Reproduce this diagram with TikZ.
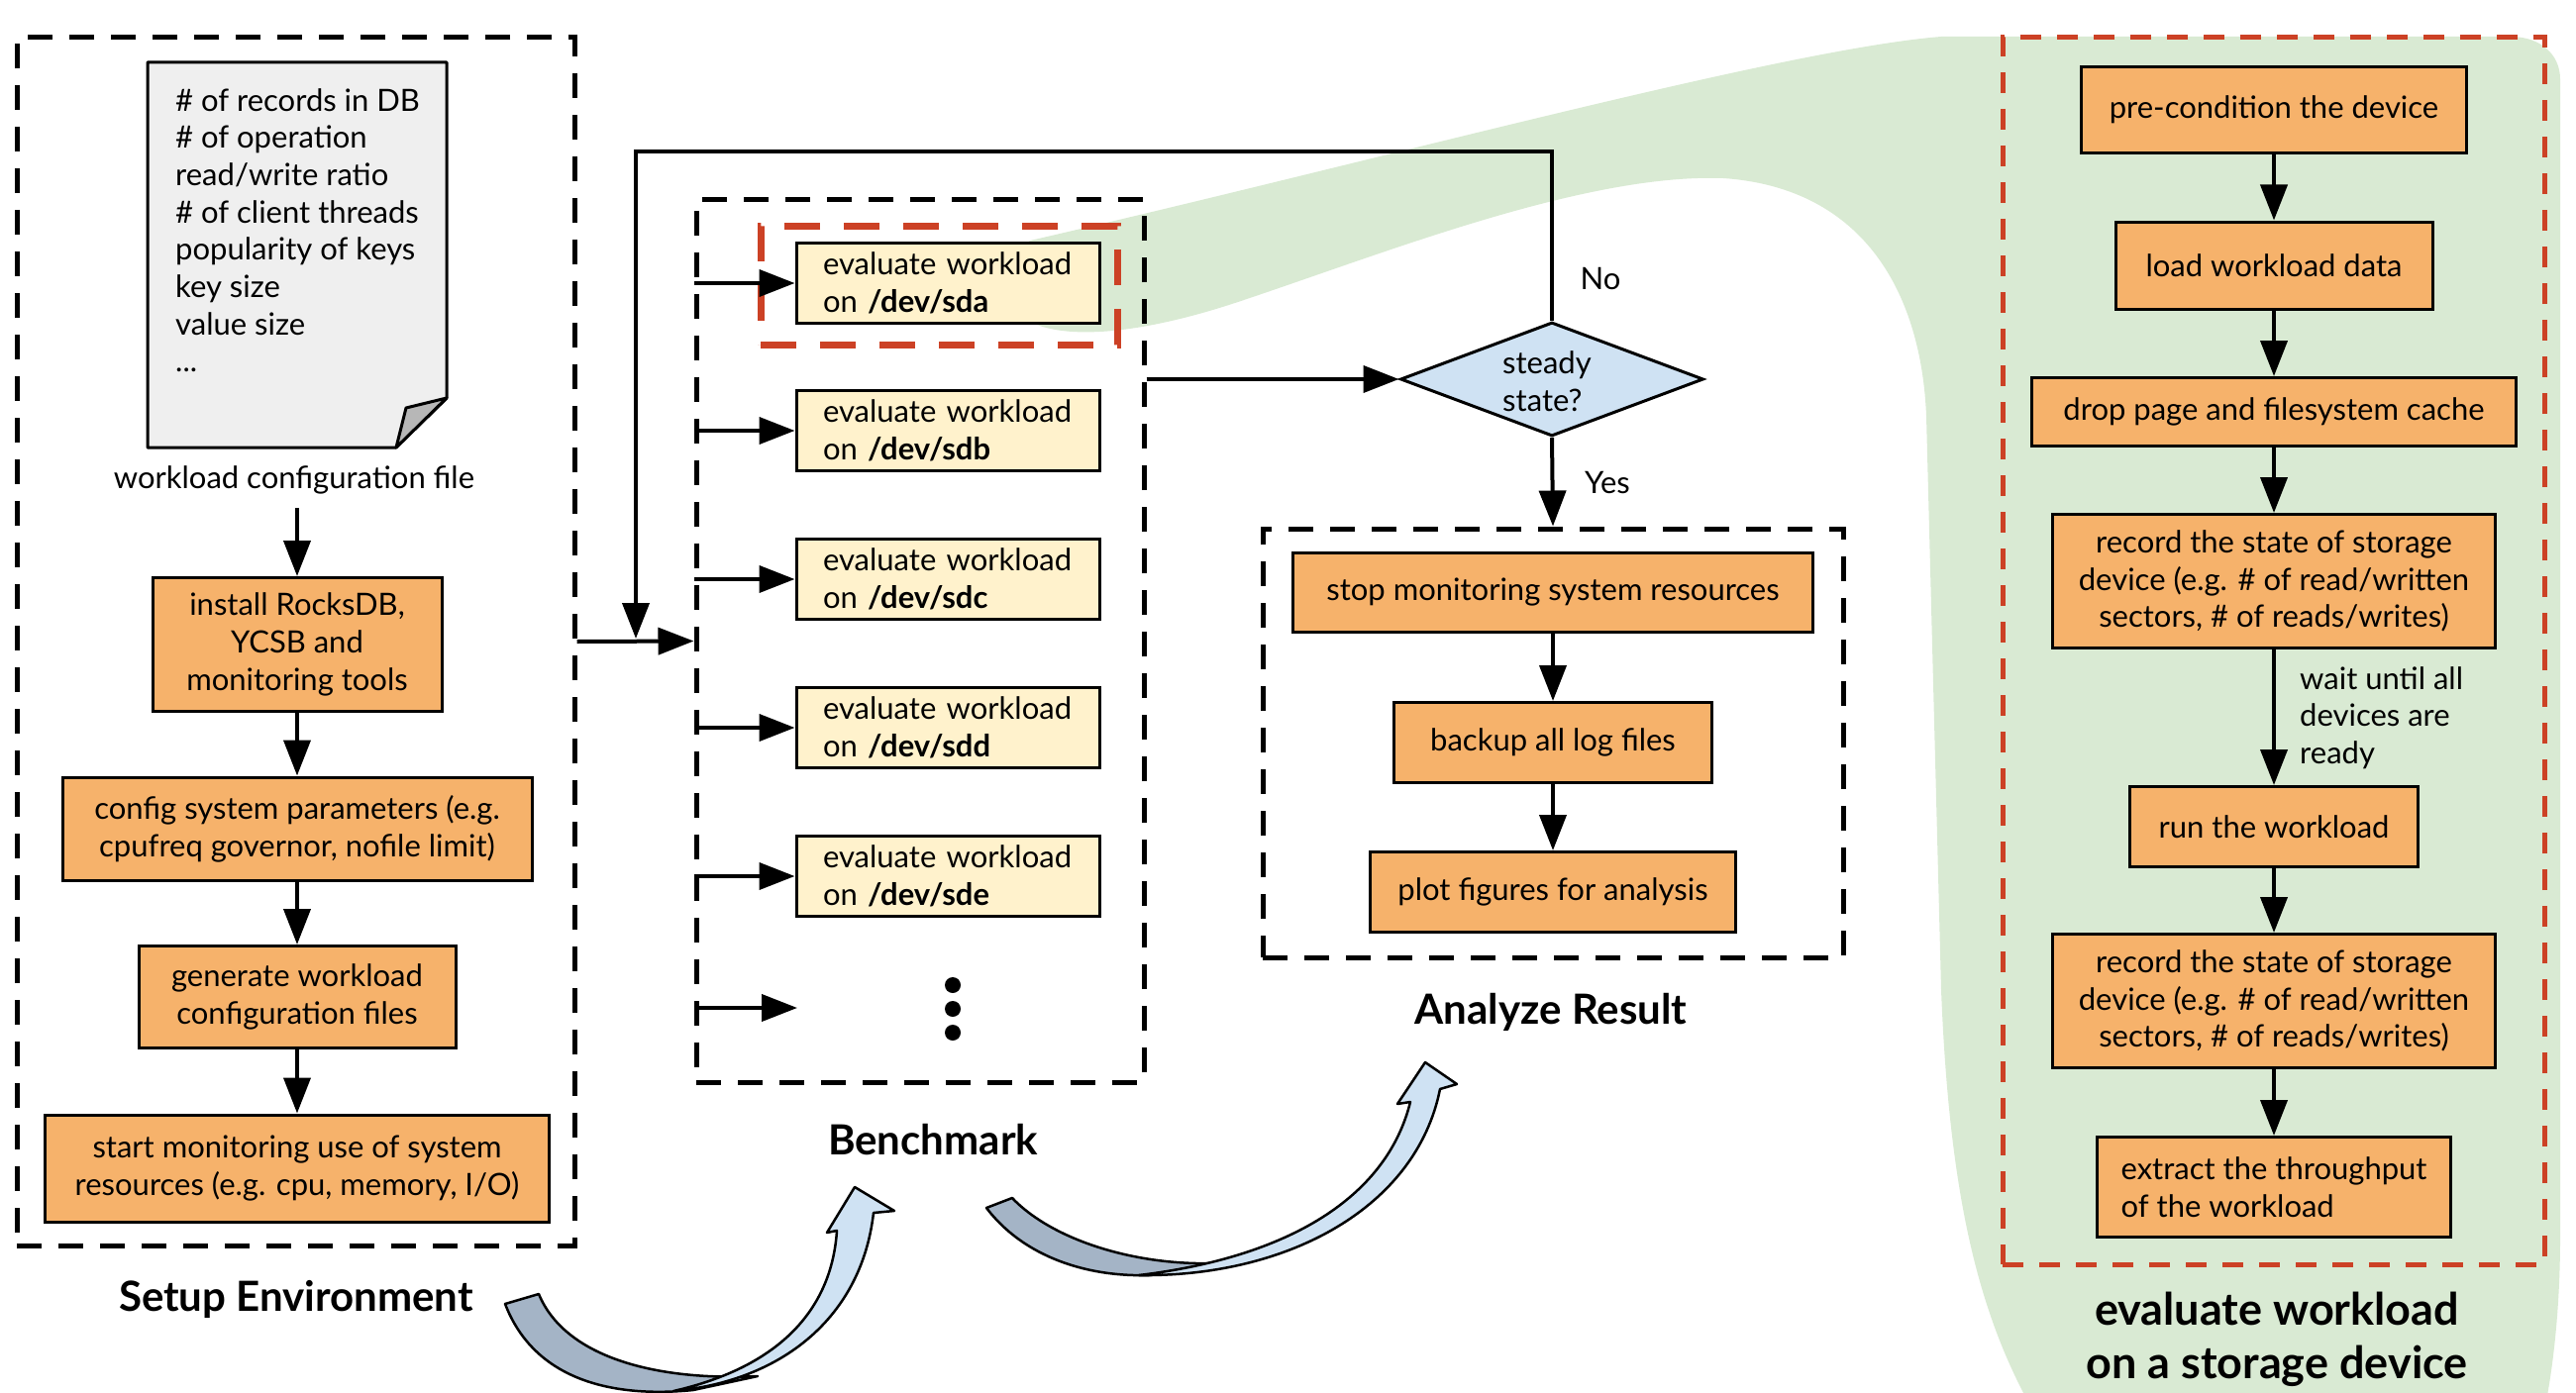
\documentclass[tikz,border=0pt]{standalone}
\usepackage{fontspec}
\setmainfont{Lato}
\usetikzlibrary{arrows.meta,shapes.geometric}
\definecolor{orangef}{HTML}{F6B26B}
\definecolor{yellowf}{HTML}{FFF2CC}
\definecolor{bluef}{HTML}{CFE2F3}
\definecolor{greenf}{HTML}{D9EAD3}
\definecolor{redd}{HTML}{CC4125}
\definecolor{docf}{HTML}{EFEFEF}
\definecolor{foldf}{HTML}{B7B7B7}
\definecolor{arrdark}{HTML}{A4B4C6}
\newcommand\txtfont{\fontsize{31}{37.7}\selectfont}
\newcommand\ttlfont{\fontsize{42}{54}\selectfont\bfseries}
\newcommand\ttlbigfont{\fontsize{45}{54}\selectfont\bfseries}
\begin{document}
\begin{tikzpicture}[x=1pt,y=-1pt,
 obox/.style={draw, fill=orangef, line width=3pt, align=center, inner sep=0pt, font=\txtfont},
 ybox/.style={draw, fill=yellowf, line width=3pt, align=left, inner xsep=27pt, inner ysep=0pt, text width=252pt, minimum height=81pt, font=\txtfont},
 dbox/.style={draw, line width=5pt, dash pattern=on 25pt off 17pt, inner sep=0pt},
 rbox/.style={draw=redd, line width=7pt, dash pattern=on 36pt off 24pt, inner sep=0pt},
 rbig/.style={draw=redd, line width=5pt, dash pattern=on 21pt off 16pt, inner sep=0pt},
 arr/.style={line width=4pt, -{Triangle[length=36pt,width=27pt]}},
 lbl/.style={font=\txtfont, inner sep=0pt},
 ttl/.style={font=\ttlfont, inner sep=0pt, align=center},
 bigarrow/.style={draw=black, line width=2.5pt, line join=round}
]
\path[use as bounding box] (0,0) rectangle (2601,1407);
\clip (0,0) rectangle (2601,1407);

% green background
\fill[greenf] (1040,243) .. controls (1400,160) and (1800,50) .. (1960,37)
  -- (2535,37) .. controls (2565,37) and (2585,55) .. (2585,80)
  -- (2585,1250) .. controls (2585,1320) and (2578,1380) .. (2570,1420)
  -- (2050,1420) .. controls (1995,1320) and (1968,1200) .. (1960,1000)
  -- (1945,420) .. controls (1940,300) and (1885,190) .. (1740,180)
  .. controls (1600,175) and (1400,255) .. (1250,305)
  .. controls (1160,335) and (1080,345) .. (1040,325)
  .. controls (1020,310) and (1020,255) .. (1040,243) -- cycle;

% dashed frames
\node[dbox, minimum width=563pt, minimum height=1220pt] (setupbox) at (298.5,648) {};
\node[dbox, minimum width=452pt, minimum height=891pt] (benchbox) at (929,647.5) {};
\node[dbox, minimum width=586pt, minimum height=433pt] (anbox) at (1568,750.5) {};
\node[rbox, minimum width=360pt, minimum height=120pt] (redsda) at (948,288) {};
\node[rbig, minimum width=547pt, minimum height=1239pt] (redright) at (2295.5,657.5) {};

% document
\filldraw[fill=docf, line width=3pt, line join=round] (149,63) -- (451,63) -- (451,402) -- (400,452) -- (149,452) -- cycle;
\filldraw[fill=foldf, line width=3pt, line join=round] (451,402) -- (410,412) -- (400,452) -- cycle;
\node[lbl, align=left, anchor=north west] (doctext) at (177,89) {\# of records in DB\\ \# of operation\\ read/write ratio\\ \# of client threads\\ popularity of keys\\ key size\\ value size\\ ...};
\node[lbl] (wlabel) at (297,485) {workload configuration file};

% setup column
\node[obox, minimum width=292pt, minimum height=135pt] (install) at (300,651) {install RocksDB,\\YCSB and\\monitoring tools};
\node[obox, minimum width=474pt, minimum height=104pt] (config) at (300,837) {config system parameters (e.g.\\cpufreq governor, nofile limit)};
\node[obox, minimum width=320pt, minimum height=103pt] (gen) at (300,1007) {generate workload\\configuration files};
\node[obox, minimum width=509pt, minimum height=108pt] (start) at (300,1180) {start monitoring use of system\\resources (e.g. cpu, memory, I/O)};
\node[ttl] (setupttl) at (299,1312) {Setup Environment};
\draw[arr, shorten <=14pt] (install.north |- wlabel.south) -- (install.north);
\draw[arr] (install) -- (config);
\draw[arr] (config) -- (gen);
\draw[arr] (gen) -- (start);

% benchmark column
\node[ybox] (sda) at (957,286) {evaluate workload\\on \textbf{/dev/sda}};
\node[ybox] (sdb) at (957,435) {evaluate workload\\on \textbf{/dev/sdb}};
\node[ybox] (sdc) at (957,585) {evaluate workload\\on \textbf{/dev/sdc}};
\node[ybox] (sdd) at (957,735) {evaluate workload\\on \textbf{/dev/sdd}};
\node[ybox] (sde) at (957,885) {evaluate workload\\on \textbf{/dev/sde}};
\fill (962,995) circle (8pt) (962,1019) circle (8pt) (962,1043) circle (8pt);
\coordinate (dotsin) at (805,1018);
\foreach \b in {sda,sdb,sdc,sdd,sde} \draw[arr] (benchbox.west |- \b.west) -- (\b.west);
\draw[arr] (benchbox.west |- dotsin) -- (dotsin);
\node[ttl] (benchttl) at (942,1151) {Benchmark};

% decision
\node[diamond, draw, fill=bluef, line width=3pt, minimum width=306pt, minimum height=115pt, inner sep=0pt] (dia) at (1567,383) {};
\node[lbl, align=left] (diatext) at (1562,385) {steady\\state?};
\draw[arr] (setupbox.east) -- (benchbox.west);
\coordinate (looptop) at (642,153);
\coordinate (loopend) at (642,647);
\draw[arr, shorten >=2pt] (dia.north) |- (looptop) -- (loopend);
\draw[arr] (benchbox.east |- dia.west) -- (dia.west);
\draw[arr] (dia.south) -- (anbox.north);
\node[lbl] (nolbl) at (1616,282) {No};
\node[lbl] (yeslbl) at (1623,488) {Yes};

% analyze
\node[obox, minimum width=525pt, minimum height=80pt] (stop) at (1568,598) {stop monitoring system resources};
\node[obox, minimum width=321pt, minimum height=81pt] (backup) at (1568,750) {backup all log files};
\node[obox, minimum width=369pt, minimum height=81pt] (plot) at (1568,901) {plot figures for analysis};
\draw[arr] (stop) -- (backup);
\draw[arr] (backup) -- (plot);
\node[ttl] (anttl) at (1566,1022) {Analyze Result};

% right column
\node[obox, minimum width=389pt, minimum height=87pt] (pre) at (2296,111) {pre-condition the device};
\node[obox, minimum width=320pt, minimum height=88pt] (load) at (2296,268) {load workload data};
\node[obox, minimum width=489pt, minimum height=69pt] (drop) at (2296,416) {drop page and filesystem cache};
\node[obox, minimum width=447pt, minimum height=135pt] (rec1) at (2296,587) {record the state of storage\\device (e.g. \# of read/written\\sectors, \# of reads/writes)};
\node[obox, minimum width=291pt, minimum height=81pt] (run) at (2296,835) {run the workload};
\node[obox, minimum width=447pt, minimum height=135pt] (rec2) at (2296,1011) {record the state of storage\\device (e.g. \# of read/written\\sectors, \# of reads/writes)};
\node[obox, align=left, minimum width=357pt, minimum height=101pt] (extract) at (2296,1199) {extract the throughput\\of the workload};
\draw[arr] (pre) -- (load);
\draw[arr] (load) -- (drop);
\draw[arr] (drop) -- (rec1);
\draw[arr] (rec1) -- (run);
\draw[arr] (run) -- (rec2);
\draw[arr] (rec2) -- (extract);
\node[lbl, align=left, anchor=west] (waitlbl) at (2322,725) {wait until all\\devices are\\ready};
\node[ttl, font=\ttlbigfont] (evttl) at (2299,1353) {evaluate workload\\on a storage device};

% curved block arrows
\filldraw[bigarrow, fill=arrdark] (510,1317) .. controls (540,1395) and (620,1412) .. (700,1404)
  -- (765,1390) .. controls (660,1395) and (570,1370) .. (544,1307) -- cycle;
\filldraw[bigarrow, fill=bluef] (680,1405) .. controls (790,1395) and (870,1330) .. (882,1225)
  -- (903,1223) -- (863,1199) -- (835,1245) -- (845,1243)
  .. controls (840,1320) and (790,1380) .. (680,1405) -- cycle;
\filldraw[bigarrow, fill=arrdark] (996,1220) .. controls (1030,1265) and (1090,1290) .. (1160,1288)
  -- (1225,1276) .. controls (1140,1278) and (1060,1250) .. (1022,1210) -- cycle;
\filldraw[bigarrow, fill=bluef] (1150,1288) .. controls (1300,1290) and (1430,1220) .. (1454,1100)
  -- (1471,1095) -- (1439,1073) -- (1411,1115) -- (1424,1113)
  .. controls (1400,1210) and (1300,1270) .. (1150,1288) -- cycle;
\end{tikzpicture}
\end{document}
